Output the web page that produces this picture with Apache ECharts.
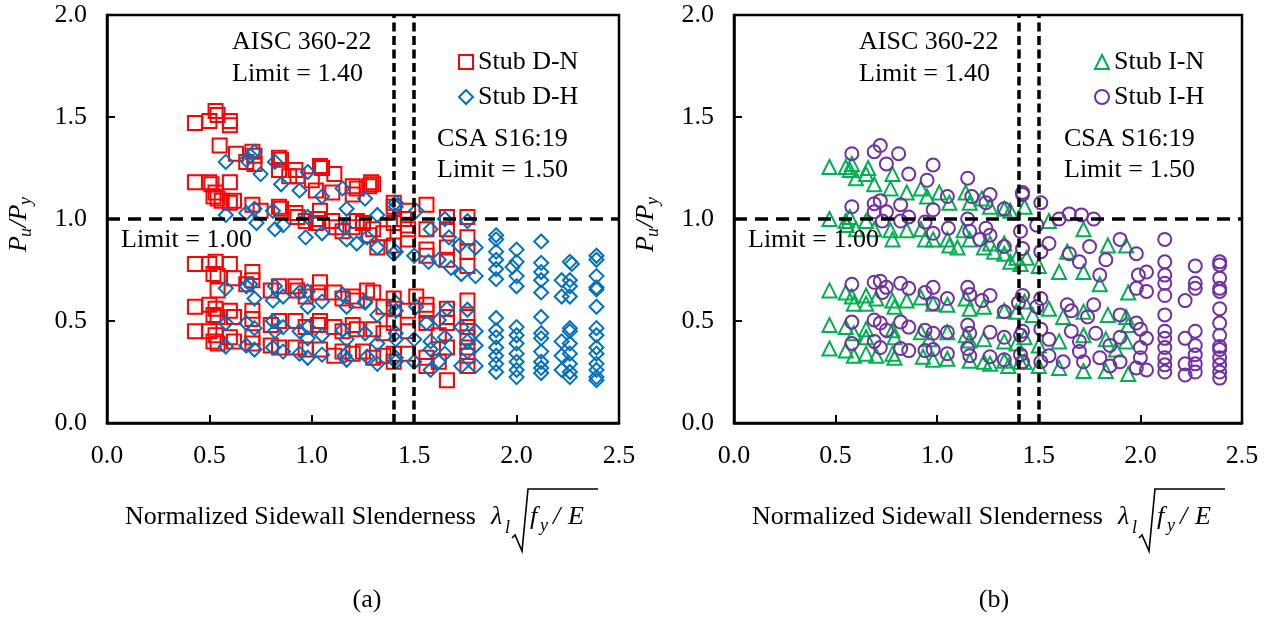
<!DOCTYPE html>
<html>
<head>
<meta charset="utf-8">
<script src="https://cdn.jsdelivr.net/npm/echarts@6/dist/echarts.min.js"></script>
<style>
  html, body { margin: 0; padding: 0; background: #fff; }
  #chart { width: 1271px; height: 617px; }
</style>
</head>
<body>
<div id="chart"></div>
<script>
// Code limits on normalized sidewall slenderness
const aiscLimit = 1.40;
const csaLimit = 1.50;
const strengthLimit = 1.00;

// Axis ticks
const xTicks = [0, 0.5, 1.0, 1.5, 2.0, 2.5];
const yTicks = [0, 0.5, 1.0, 1.5, 2.0];

// Stub D-N  [slenderness, Pu/Py]
const dnTop = [[0.43,1.47],[0.50,1.48],[0.53,1.53],[0.54,1.51],[0.60,1.48],[0.60,1.46],
  [0.55,1.36],[0.63,1.32],[0.71,1.33],[0.72,1.31],[0.68,1.28],[0.72,1.27],[0.84,1.30],[0.85,1.29],
  [0.92,1.24],[0.84,1.24],[1.04,1.26],[1.05,1.25],[1.11,1.22],[0.89,1.21],[1.00,1.19],[0.93,1.21],
  [1.20,1.16],[1.22,1.15],[1.29,1.18],[1.30,1.17],[1.02,1.14],[1.10,1.13],[1.20,1.12],[1.28,1.16]];
const dnUpper = [[0.43,1.18],[0.50,1.18],[0.51,1.17],[0.60,1.18],[0.53,1.13],[0.52,1.11],[0.54,1.10],
  [0.56,1.09],[0.62,1.09],[0.60,1.08],[0.71,1.07],[0.75,1.04],[0.84,1.06],[0.85,1.05],[0.92,1.03],
  [0.93,1.01],[1.04,1.04],[1.03,1.00],[1.02,0.98],[1.12,0.96],[1.10,0.99],[1.20,0.96],[1.22,0.99],
  [1.25,0.98],[1.30,0.95],[1.32,0.86],[1.28,0.92],[1.40,1.08],[1.40,1.06],[1.40,0.98],[1.40,0.87],
  [1.47,1.04],[1.47,0.95],[1.47,0.90],[1.56,1.07],[1.56,0.95],[1.56,0.85],[1.56,0.82],[1.66,1.01],
  [1.66,0.95],[1.66,0.86],[1.66,0.80],[1.76,1.01],[1.76,0.91],[1.76,0.84],[1.76,0.77],[1.45,1.00],
  [1.35,0.93],[1.15,0.94],[0.97,0.99]];
const dnMid = [[0.43,0.78],[0.50,0.78],[0.53,0.79],[0.60,0.78],[0.52,0.73],[0.54,0.72],[0.62,0.71],
  [0.71,0.74],[0.71,0.70],[0.54,0.65],[0.68,0.68],[0.84,0.67],[0.92,0.67],[0.93,0.65],[1.04,0.69],
  [1.03,0.64],[1.11,0.64],[1.20,0.62],[1.22,0.60],[1.30,0.64],[1.27,0.65],[1.40,0.61],[1.40,0.56],
  [1.51,0.62],[1.47,0.55],[1.56,0.55],[1.56,0.58],[1.66,0.56],[1.66,0.52],[1.76,0.60],[1.76,0.52],
  [0.80,0.65],[0.97,0.62],[1.15,0.61],[1.35,0.57]];
const dnLow = [[0.43,0.57],[0.50,0.58],[0.53,0.56],[0.60,0.55],[0.52,0.53],[0.54,0.52],[0.62,0.52],
  [0.71,0.55],[0.71,0.51],[0.84,0.50],[0.92,0.50],[1.04,0.50],[1.03,0.48],[1.11,0.47],[1.20,0.48],
  [1.22,0.46],[1.30,0.46],[1.40,0.49],[1.47,0.45],[1.56,0.49],[1.66,0.49],[1.76,0.47],[1.76,0.42],
  [0.80,0.48],[0.97,0.47],[1.15,0.45],[1.35,0.44],[1.62,0.43]];
const dnBottom = [[0.43,0.45],[0.50,0.45],[0.53,0.43],[0.60,0.42],[0.52,0.40],[0.54,0.39],[0.62,0.40],
  [0.71,0.42],[0.71,0.39],[0.84,0.37],[0.92,0.37],[1.04,0.36],[1.11,0.33],[1.20,0.34],[1.30,0.32],
  [1.40,0.30],[1.40,0.34],[1.47,0.34],[1.56,0.28],[1.56,0.32],[1.66,0.37],[1.66,0.21],[1.76,0.37],
  [1.76,0.33],[1.76,0.28],[0.80,0.38],[0.97,0.36],[1.15,0.35],[1.35,0.33],[1.25,0.35],[1.62,0.30]];

// Stub D-H
const dhTop = [[0.58,1.28],[0.68,1.29],[0.72,1.33],[0.70,1.31],[0.75,1.22],[0.82,1.28],[0.85,1.17],
  [0.94,1.14],[0.98,1.23],[1.05,1.11],[1.15,1.15],[1.17,1.05],[1.26,1.10],[1.32,1.02],[1.41,1.08],
  [1.41,1.06],[1.51,1.04],[1.65,1.00],[1.76,0.99],[1.58,0.95],[1.67,0.91],[1.72,0.87],[1.80,0.86],
  [1.90,0.92],[1.90,0.90],[2.00,0.85],[2.12,0.89],[2.26,0.79],[2.27,0.78],[2.39,0.82],[2.39,0.80]];
const dhUpper = [[0.58,1.02],[0.68,1.03],[0.72,1.05],[0.73,0.98],[0.81,1.04],[0.82,0.95],[0.86,0.97],
  [0.97,0.91],[0.98,1.01],[1.05,0.93],[1.16,0.96],[1.17,0.90],[1.22,0.88],[1.27,0.91],[1.32,0.86],
  [1.40,0.83],[1.41,0.84],[1.50,0.82],[1.57,0.79],[1.62,0.80],[1.68,0.76],[1.73,0.73],[1.80,0.72],
  [1.90,0.84],[1.90,0.80],[1.90,0.755],[1.90,0.705],[2.00,0.79],[1.98,0.765],[2.00,0.72],[2.00,0.67],
  [2.12,0.785],[2.12,0.74],[2.12,0.70],[2.12,0.64],[2.22,0.70],[2.22,0.62],[2.26,0.70],[2.26,0.67],
  [2.26,0.62],[2.39,0.72],[2.39,0.665],[2.39,0.655],[2.39,0.57]];
const dhMid = [[0.58,0.66],[0.68,0.67],[0.70,0.68],[0.72,0.61],[0.82,0.67],[0.81,0.60],[0.86,0.62],
  [0.94,0.64],[0.98,0.645],[0.98,0.57],[1.05,0.595],[1.15,0.63],[1.17,0.57],[1.26,0.595],[1.32,0.53],
  [1.26,0.59],[1.41,0.59],[1.41,0.55],[1.51,0.57],[1.56,0.49],[1.62,0.505],[1.66,0.56],[1.76,0.555],
  [1.80,0.45],[1.73,0.47],[1.90,0.515],[1.90,0.455],[2.00,0.47],[2.00,0.43],[2.12,0.52],[2.12,0.44],
  [2.26,0.465],[2.26,0.45],[2.39,0.465],[2.39,0.43]];
const dhLow = [[0.58,0.49],[0.68,0.49],[0.72,0.465],[0.81,0.50],[0.82,0.45],[0.86,0.47],[0.94,0.45],
  [0.98,0.47],[0.98,0.415],[1.05,0.43],[1.15,0.455],[1.17,0.41],[1.26,0.44],[1.32,0.39],[1.41,0.41],
  [1.41,0.44],[1.50,0.41],[1.58,0.40],[1.65,0.42],[1.76,0.40],[1.80,0.38],[1.90,0.42],[1.90,0.37],
  [2.00,0.39],[2.12,0.415],[2.12,0.35],[2.22,0.40],[2.26,0.39],[2.39,0.37],[2.39,0.34]];
const dhBottom = [[0.58,0.375],[0.68,0.38],[0.72,0.36],[0.81,0.37],[0.86,0.35],[0.94,0.34],[0.98,0.32],
  [1.05,0.335],[1.16,0.33],[1.17,0.31],[1.27,0.325],[1.32,0.29],[1.41,0.32],[1.41,0.30],[1.50,0.30],
  [1.58,0.36],[1.58,0.26],[1.62,0.30],[1.65,0.34],[1.73,0.28],[1.76,0.35],[1.80,0.28],[1.90,0.33],
  [1.90,0.29],[1.90,0.25],[2.00,0.34],[2.00,0.30],[2.00,0.26],[2.00,0.225],[2.12,0.30],[2.12,0.27],
  [2.12,0.245],[2.22,0.33],[2.22,0.26],[2.26,0.34],[2.26,0.29],[2.26,0.25],[2.26,0.225],[2.39,0.29],
  [2.39,0.26],[2.39,0.225],[2.39,0.21]];

// Stub I-N
const inTop = [[0.47,1.255],[0.55,1.255],[0.58,1.27],[0.57,1.24],[0.66,1.25],[0.65,1.22],[0.60,1.20],
  [0.69,1.17],[0.78,1.22],[0.77,1.15],[0.85,1.13],[0.92,1.15],[0.95,1.11],[1.01,1.13],[1.06,1.08],
  [1.14,1.13],[1.16,1.08],[1.22,1.10],[1.26,1.06],[1.33,1.05],[1.36,1.04],[1.43,1.06],[1.55,0.99],
  [1.72,0.95],[1.84,0.87],[1.93,0.87]];
const inUpper = [[0.47,1.00],[0.55,0.99],[0.57,1.01],[0.555,0.97],[0.60,0.95],[0.65,0.99],[0.69,0.95],
  [0.77,0.945],[0.78,0.90],[0.85,0.945],[0.92,0.95],[0.94,0.90],[0.98,0.90],[1.05,0.90],[1.06,0.87],
  [1.13,0.945],[1.16,0.90],[1.23,0.86],[1.26,0.88],[1.33,0.88],[1.33,0.83],[1.39,0.81],[1.41,0.78],
  [1.36,0.79],[1.44,0.81],[1.50,0.77],[1.60,0.74],[1.64,0.84],[1.72,0.74],[1.80,0.68],[1.94,0.64],
  [1.28,0.84],[1.10,0.86]];
const inMid = [[0.47,0.65],[0.55,0.64],[0.58,0.62],[0.59,0.585],[0.65,0.625],[0.65,0.585],[0.70,0.61],
  [0.78,0.60],[0.79,0.57],[0.85,0.60],[0.92,0.615],[0.98,0.585],[1.05,0.58],[1.14,0.61],[1.16,0.56],
  [1.23,0.57],[1.33,0.55],[1.39,0.545],[1.43,0.595],[1.47,0.53],[1.55,0.56],[1.62,0.52],[1.72,0.545],
  [1.84,0.53],[1.93,0.52],[1.94,0.48]];
const inLow = [[0.47,0.48],[0.55,0.47],[0.59,0.44],[0.65,0.46],[0.65,0.42],[0.78,0.455],[0.79,0.42],
  [0.92,0.445],[0.96,0.41],[1.05,0.445],[1.14,0.43],[1.16,0.405],[1.23,0.41],[1.33,0.40],[1.39,0.39],
  [1.43,0.42],[1.50,0.38],[1.60,0.40],[1.72,0.43],[1.83,0.41],[1.93,0.40],[1.88,0.36]];
const inBottom = [[0.47,0.365],[0.55,0.355],[0.59,0.33],[0.65,0.34],[0.70,0.33],[0.78,0.34],[0.79,0.32],
  [0.93,0.325],[0.98,0.31],[1.05,0.315],[1.16,0.305],[1.23,0.30],[1.33,0.305],[1.41,0.30],[1.43,0.30],
  [1.50,0.28],[1.60,0.27],[1.72,0.255],[1.83,0.255],[1.94,0.24],[1.35,0.28],[1.26,0.29]];

// Stub I-H
const ihTop = [[0.58,1.32],[0.69,1.33],[0.72,1.36],[0.81,1.32],[0.75,1.27],[0.86,1.22],[0.98,1.265],
  [0.95,1.19],[1.15,1.20],[1.05,1.11],[1.17,1.11],[1.26,1.12],[1.24,1.08],[1.33,1.05],[1.42,1.13],
  [1.42,1.12],[1.51,1.08],[1.60,1.00],[1.65,1.025],[1.77,1.00],[1.71,1.02]];
const ihUpper = [[0.58,1.06],[0.69,1.075],[0.72,1.09],[0.69,1.035],[0.75,1.035],[0.82,1.07],[0.73,0.99],
  [0.82,0.99],[0.86,1.01],[0.98,1.045],[0.94,0.985],[0.98,0.93],[1.055,0.955],[1.15,1.00],[1.16,0.94],
  [1.24,0.955],[1.26,0.92],[1.21,0.90],[1.33,0.865],[1.42,0.855],[1.41,0.94],[1.49,0.97],[1.51,0.84],
  [1.55,0.88],[1.65,0.83],[1.70,0.79],[1.75,0.865],[1.80,0.725],[1.83,0.80],[1.90,0.90],[1.98,0.83],
  [2.03,0.74],[1.99,0.725],[1.98,0.66],[2.03,0.645],[2.12,0.90],[2.12,0.79],[2.12,0.725],[2.12,0.685],
  [2.12,0.625],[2.27,0.77],[2.27,0.685],[2.27,0.66],[2.22,0.60],[2.39,0.79],[2.39,0.775],[2.39,0.71],
  [2.39,0.66],[2.39,0.645],[2.39,0.56]];
const ihMid = [[0.58,0.68],[0.69,0.69],[0.72,0.695],[0.75,0.665],[0.73,0.64],[0.82,0.685],[0.86,0.66],
  [0.94,0.64],[0.98,0.665],[0.98,0.585],[1.05,0.61],[1.15,0.665],[1.16,0.63],[1.26,0.625],[1.22,0.60],
  [1.33,0.545],[1.42,0.625],[1.40,0.59],[1.51,0.61],[1.49,0.57],[1.64,0.58],[1.66,0.55],[1.77,0.58],
  [1.74,0.52],[1.90,0.53],[1.98,0.49],[2.00,0.46],[2.12,0.53],[2.12,0.45],[2.27,0.45],[2.22,0.415],
  [2.39,0.49],[2.39,0.43]];
const ihLow = [[0.58,0.495],[0.69,0.505],[0.72,0.49],[0.75,0.455],[0.82,0.495],[0.86,0.47],[0.94,0.455],
  [0.98,0.44],[1.05,0.445],[1.15,0.48],[1.16,0.44],[1.26,0.445],[1.33,0.42],[1.42,0.45],[1.41,0.43],
  [1.51,0.46],[1.55,0.41],[1.66,0.45],[1.70,0.40],[1.78,0.44],[1.85,0.38],[1.90,0.42],[2.03,0.415],
  [2.00,0.37],[2.12,0.415],[2.12,0.37],[2.27,0.38],[2.39,0.375],[2.39,0.36]];
const ihBottom = [[0.58,0.39],[0.69,0.40],[0.72,0.37],[0.82,0.365],[0.86,0.355],[0.94,0.355],[0.98,0.36],
  [1.05,0.34],[1.15,0.365],[1.16,0.33],[1.26,0.325],[1.33,0.31],[1.42,0.30],[1.41,0.335],[1.51,0.30],
  [1.55,0.33],[1.62,0.30],[1.70,0.35],[1.72,0.30],[1.80,0.32],[1.85,0.28],[1.90,0.30],[1.98,0.27],
  [2.00,0.32],[2.03,0.26],[2.12,0.32],[2.12,0.285],[2.12,0.25],[2.22,0.29],[2.22,0.235],[2.27,0.335],
  [2.27,0.29],[2.27,0.25],[2.39,0.32],[2.39,0.285],[2.39,0.25],[2.39,0.22]];

const FONT = "'Liberation Serif','Times New Roman',serif";
const FS = 26;

function txt(x, y, s, size, italic, align) {
  const font = (italic ? 'italic ' : '') + size + 'px ' + FONT;
  return {
    type: 'text', x: x, y: y, silent: true, z: 20,
    style: { text: s, font: font, fill: '#000',
      align: align || 'left', verticalAlign: 'middle',
      textAlign: align || 'left', textVerticalAlign: 'middle' }
  };
}

function xAxisCfg(grid) {
  return {
    gridIndex: grid, type: 'value', min: xTicks[0], max: xTicks[xTicks.length - 1], interval: 0.5,
    axisLine: { show: true, onZero: false, lineStyle: { color: '#000', width: 2.5 } },
    axisTick: { show: true, inside: true, length: 8, lineStyle: { color: '#000', width: 2 } },
    axisLabel: { color: '#000', fontFamily: FONT, fontSize: FS, margin: 20,
      formatter: v => v.toFixed(1) },
    splitLine: { show: false }
  };
}
function yAxisCfg(grid) {
  return {
    gridIndex: grid, type: 'value', min: yTicks[0], max: yTicks[yTicks.length - 1], interval: 0.5,
    axisLine: { show: true, onZero: false, lineStyle: { color: '#000', width: 2.5 } },
    axisTick: { show: true, inside: true, length: 8, lineStyle: { color: '#000', width: 2 } },
    axisLabel: { color: '#000', fontFamily: FONT, fontSize: FS, margin: 20,
      formatter: v => v.toFixed(1) },
    splitLine: { show: false }
  };
}

function scatter(name, grid, symbol, size, color, data) {
  return {
    name: name, type: 'scatter', xAxisIndex: grid, yAxisIndex: grid,
    symbol: symbol, symbolSize: size, data: data,
    itemStyle: { color: 'rgba(0,0,0,0)', borderColor: color, borderWidth: 2, opacity: 1 },
    emphasis: { disabled: true }, animation: false
  };
}

function limitLines(grid) {
  return {
    type: 'scatter', xAxisIndex: grid, yAxisIndex: grid, data: [], z: 5, silent: true,
    markLine: {
      silent: true, symbol: ['none', 'none'], animation: false,
      label: { show: false },
      lineStyle: { color: '#000', width: 3.5, type: [9, 5] },
      data: [
        { xAxis: aiscLimit, lineStyle: { type: [9, 4.5] } },
        { xAxis: csaLimit, lineStyle: { type: [9, 4.5] } },
        { yAxis: strengthLimit, lineStyle: { type: [13, 8] } }
      ]
    }
  };
}

// annotations and math axis titles for one panel, shifted by dx
function panelGraphics(dx, tag) {
  const g = [];
  g.push(txt(232 + dx, 42, 'AISC 360-22', FS));
  g.push(txt(232 + dx, 74, 'Limit = ' + aiscLimit.toFixed(2), FS));
  g.push(txt(437 + dx, 139, 'CSA S16:19', FS));
  g.push(txt(437 + dx, 170, 'Limit = ' + csaLimit.toFixed(2), FS));
  g.push(txt(121 + dx, 240, 'Limit = ' + strengthLimit.toFixed(2), FS));
  // x title: Normalized Sidewall Slenderness  λ_l √(f_y / E)
  g.push(txt(125 + dx, 517, 'Normalized Sidewall Slenderness', FS));
  g.push(txt(491 + dx, 517, 'λ', FS, true));
  g.push(txt(505 + dx, 528, 'l', 18, true));
  g.push({ type: 'polyline', silent: true, z: 20,
    shape: { points: [[512 + dx, 538], [515 + dx, 535], [522 + dx, 551], [528 + dx, 489], [598 + dx, 489]] },
    style: { stroke: '#000', lineWidth: 1.6, fill: null } });
  g.push(txt(530 + dx, 517, 'f', FS, true));
  g.push(txt(540 + dx, 526, 'y', 18, true));
  g.push(txt(553 + dx, 517, '/', FS, true));
  g.push(txt(568 + dx, 517, 'E', FS, true));
  // y title: P_u / P_y, reading upward
  g.push({ type: 'group', x: 28 + dx, y: 252, rotation: Math.PI / 2, silent: true,
    children: [
      txt(0, -8.5, 'P', FS, true),
      txt(15, -2, 'u', 18, true),
      txt(24.5, -8.5, '/', FS, true),
      txt(31.5, -8.5, 'P', FS, true),
      txt(47, -2, 'y', 18, true)
    ] });
  g.push(txt(367 + dx, 600, tag, FS, false, 'center'));
  return g;
}

const legendText = { fontFamily: FONT, fontSize: FS, color: '#000' };

const option = {
  backgroundColor: '#fff',
  animation: false,
  grid: [
    { left: 107, top: 15, width: 512, height: 408, show: true, borderColor: '#000', borderWidth: 2.5, backgroundColor: 'transparent' },
    { left: 734, top: 15, width: 508, height: 408, show: true, borderColor: '#000', borderWidth: 2.5, backgroundColor: 'transparent' }
  ],
  xAxis: [xAxisCfg(0), xAxisCfg(1)],
  yAxis: [yAxisCfg(0), yAxisCfg(1)],
  legend: [
    { data: ['Stub D-N', 'Stub D-H'], left: 458, top: 49, orient: 'vertical', padding: 0,
      itemWidth: 14, itemHeight: 14, itemGap: 9, textStyle: legendText, selectedMode: false },
    { data: ['Stub I-N', 'Stub I-H'], left: 1094, top: 49, orient: 'vertical', padding: 0,
      itemWidth: 14, itemHeight: 14, itemGap: 9, textStyle: legendText, selectedMode: false }
  ],
  series: [
    scatter('Stub D-N', 0, 'rect', 14, '#FF0000', [].concat(dnTop, dnUpper, dnMid, dnLow, dnBottom)),
    scatter('Stub D-H', 0, 'diamond', 14, '#0070C0', [].concat(dhTop, dhUpper, dhMid, dhLow, dhBottom)),
    limitLines(0),
    scatter('Stub I-N', 1, 'triangle', 14, '#00B050', [].concat(inTop, inUpper, inMid, inLow, inBottom)),
    scatter('Stub I-H', 1, 'circle', 13, '#7030A0', [].concat(ihTop, ihUpper, ihMid, ihLow, ihBottom)),
    limitLines(1)
  ],
  graphic: [].concat(panelGraphics(0, '(a)'), panelGraphics(627, '(b)'))
};

const chart = echarts.init(document.getElementById('chart'), null, { renderer: 'canvas' });
chart.setOption(option);
</script>
</body>
</html>
